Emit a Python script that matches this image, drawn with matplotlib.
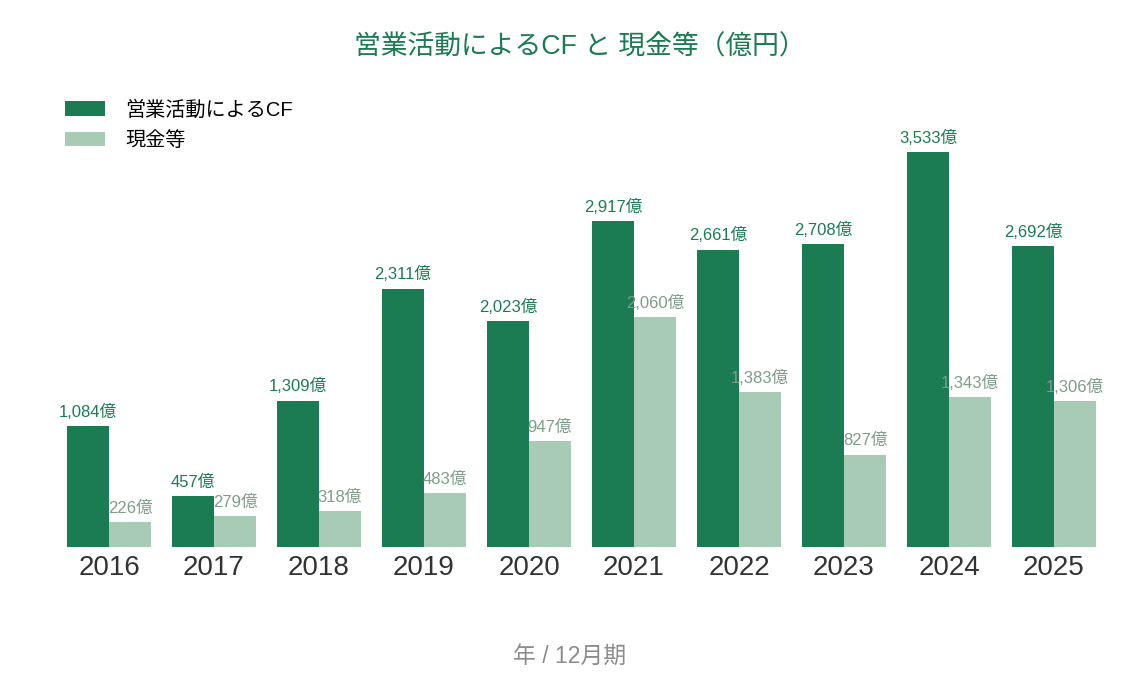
import numpy as np
import matplotlib.pyplot as plt

plt.rcParams['font.family'] = ['Liberation Sans', 'Noto Sans CJK JP', 'DejaVu Sans']

# data (億円)
years = ["2016", "2017", "2018", "2019", "2020", "2021", "2022", "2023", "2024", "2025"]
operating_cf = [1084, 457, 1309, 2311, 2023, 2917, 2661, 2708, 3533, 2692]
cash = [226, 279, 318, 483, 947, 2060, 1383, 827, 1343, 1306]

dark_green = "#1b7c53"
light_green = "#a8cbb6"
light_label = "#7f9c8a"

fig = plt.figure(figsize=(11.4, 6.75), dpi=100)
ax = fig.add_axes([56.5 / 1140, 1 - 547 / 675, 1050 / 1140, 447 / 675])

x = np.arange(len(years))
width = 0.4
bars_cf = ax.bar(x - width / 2, operating_cf, width, color=dark_green, label="営業活動によるCF")
bars_cash = ax.bar(x + width / 2, cash, width, color=light_green, label="現金等")

# value labels above each bar
for bar, val in zip(bars_cf, operating_cf):
    ax.annotate(f"{val:,}億", (bar.get_x() + bar.get_width() / 2, val),
                xytext=(0, 4.5), textcoords="offset points", ha="center", va="bottom",
                fontsize=12, color=dark_green)
for bar, val in zip(bars_cash, cash):
    ax.annotate(f"{val:,}億", (bar.get_x() + bar.get_width() / 2, val),
                xytext=(0, 4.5), textcoords="offset points", ha="center", va="bottom",
                fontsize=12, color=light_label)

ax.set_xlim(-0.5, len(years) - 0.5)
ax.set_ylim(0, 4000)
ax.set_xticks(x)
ax.set_xticklabels(years, fontsize=20, color="#333333")
ax.tick_params(axis="x", length=0, pad=5.5)
ax.set_yticks([])
for side in ax.spines.values():
    side.set_visible(False)

fig.text(580 / 1140, 1 - 47 / 675, "営業活動によるCF と 現金等（億円）", ha="center", va="center",
         fontsize=19.3, color=dark_green)
fig.text(570 / 1140, 1 - 656 / 675, "年 / 12月期", ha="center", va="center",
         fontsize=16.5, color="#8c8c8c")

leg = ax.legend(loc="upper left", bbox_to_anchor=(65 / 1140, 1 - 100 / 675),
                bbox_transform=fig.transFigure, frameon=False, fontsize=14.5,
                handlelength=2.0, handleheight=0.75, handletextpad=1.0, labelspacing=0.58,
                borderpad=0, borderaxespad=0)

fig.savefig("out.png", dpi=100)
